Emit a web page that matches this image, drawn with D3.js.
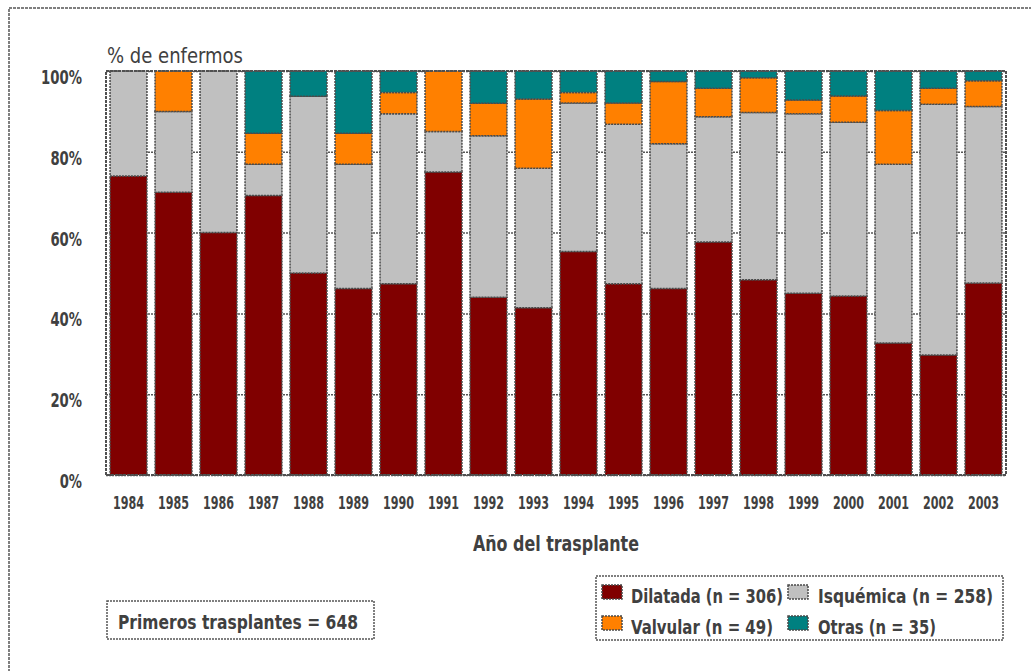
<!DOCTYPE html>
<html>
<head>
<meta charset="utf-8">
<script src="https://cdn.jsdelivr.net/npm/d3@7"></script>
<style>
html,body{margin:0;padding:0;background:#fff;}
svg text{font-family:"Liberation Sans Narrow","Arial Narrow","DejaVu Sans Condensed","Liberation Sans",sans-serif;fill:#404040;}
</style>
</head>
<body>
<svg id="chart" width="1031" height="671"></svg>
<script>
const years = ["1984","1985","1986","1987","1988","1989","1990","1991","1992","1993","1994","1995","1996","1997","1998","1999","2000","2001","2002","2003"];
const dilatada  = [74, 70, 60, 69.2, 50,   46.2, 47.4, 75, 44, 41.4, 55.3, 47.4, 46.2, 57.7, 48.3, 45.0, 44.3, 32.7, 29.7, 47.5];
const isquemica = [26, 20, 40, 7.7,  43.75,30.8, 42.1, 10, 40, 34.5, 36.8, 39.5, 35.9, 31.0, 41.4, 44.4, 43.0, 44.2, 62.1, 43.7];
const valvular  = [0,  10, 0,  7.7,  0,    7.7,  5.3,  15, 8,  17.2, 2.6,  5.3,  15.4, 7.0,  8.6,  3.4,  6.5,  13.3, 3.9,  6.4];
const otras     = [0,  0,  0,  15.4, 6.25, 15.4, 5.3,  0,  8,  6.9,  5.3,  7.9,  2.6,  4.3,  1.7,  7.2,  6.2,  9.8,  4.3,  2.4];
const seriesNames = ["Dilatada (n = 306)","Isquémica (n = 258)","Valvular (n = 49)","Otras (n = 35)"];
const seriesKeys = ["dilatada","isquemica","valvular","otras"];
const colors = ["#800000","#C0C0C0","#FF8000","#008080"];
const yTicks = [0,20,40,60,80,100];
const yTitle = "% de enfermos";
const xTitle = "Año del trasplante";
const noteText = "Primeros trasplantes = 648";

const rows = years.map((y,i)=>({year:y, dilatada:dilatada[i], isquemica:isquemica[i], valvular:valvular[i], otras:otras[i]}));
rows.forEach(r=>{const s=r.dilatada+r.isquemica+r.valvular+r.otras; seriesKeys.forEach(k=>r[k]=r[k]/s*100);});

const svg = d3.select("#chart");
const m = {left:106, right:1006, top:71, bottom:475};
const x = d3.scaleBand().domain(years).range([m.left,m.right]).paddingInner(0.18).paddingOuter(0.09);
const y = d3.scaleLinear().domain([0,100]).range([m.bottom,m.top]);

// helper: fit text to a measured width (condensed look)
function fit(sel, w){ sel.attr("textLength",w).attr("lengthAdjust","spacingAndGlyphs"); return sel; }

svg.append("rect").attr("x",9).attr("y",8).attr("width",1100).attr("height",800)
  .attr("fill","none").attr("stroke","#555").attr("stroke-width",1.5).attr("stroke-dasharray","3 1");

svg.append("g").attr("transform",`translate(${m.left},0)`)
  .call(d3.axisLeft(y).tickValues(yTicks).tickSize(-(m.right-m.left)).tickFormat(""))
  .call(g=>g.select(".domain").remove())
  .call(g=>g.selectAll("line").attr("stroke","#555").attr("stroke-width",1.5).attr("stroke-dasharray","2 1"));

const stack = d3.stack().keys(seriesKeys)(rows);
svg.append("g").selectAll("g").data(stack).join("g")
  .attr("fill",(d,i)=>colors[i])
  .selectAll("rect").data(d=>d).join("rect")
  .attr("x",d=>x(d.data.year))
  .attr("width",x.bandwidth())
  .attr("y",d=>y(d[1]))
  .attr("height",d=>Math.max(0,y(d[0])-y(d[1])))
  .attr("stroke","#4a4a4a").attr("stroke-width",1.5).attr("stroke-dasharray","2 1");

svg.append("rect").attr("x",m.left).attr("y",m.top).attr("width",m.right-m.left).attr("height",m.bottom-m.top)
  .attr("fill","none").attr("stroke","#505050").attr("stroke-width",2).attr("stroke-dasharray","3 1");

// y axis labels
svg.append("g").attr("transform",`translate(${m.left},0)`)
  .call(d3.axisLeft(y).tickValues(yTicks).tickSize(0).tickPadding(24).tickFormat(d=>d+"%"))
  .call(g=>g.select(".domain").remove())
  .call(g=>g.selectAll("text").attr("dy",null)
     .attr("y",12.5).attr("font-size",19).attr("font-weight","bold").attr("fill","#404040")
     .each(function(d){ d3.select(this).attr("textLength", String(d).length*9.3+13).attr("lengthAdjust","spacingAndGlyphs"); }));

// x axis labels
svg.append("g").attr("transform",`translate(0,${m.bottom})`)
  .call(d3.axisBottom(x).tickSize(0).tickPadding(0))
  .call(g=>g.select(".domain").remove())
  .call(g=>g.selectAll("text").attr("dy",null).attr("y",34).attr("font-size",17).attr("font-weight","bold")
     .attr("fill","#404040").attr("textLength",31).attr("lengthAdjust","spacingAndGlyphs"));

fit(svg.append("text").attr("x",107).attr("y",63).attr("font-size",21).text(yTitle),136);
fit(svg.append("text").attr("x",(m.left+m.right)/2).attr("y",551).attr("text-anchor","middle")
  .attr("font-size",21).attr("font-weight","bold").text(xTitle),166);

svg.append("rect").attr("x",107).attr("y",601).attr("width",267).attr("height",38)
  .attr("fill","none").attr("stroke","#555").attr("stroke-width",1.5).attr("stroke-dasharray","2 1");
fit(svg.append("text").attr("x",118).attr("y",629).attr("font-size",19).attr("font-weight","bold").text(noteText),240);

svg.append("rect").attr("x",596).attr("y",576).attr("width",407).attr("height",64)
  .attr("fill","none").attr("stroke","#555").attr("stroke-width",1.5).attr("stroke-dasharray","2 1");
const legPos = [[602,585],[788,585],[602,616],[788,616]];
const legW = [152,175,142,118];
const leg = svg.append("g").selectAll("g").data(seriesNames).join("g")
  .attr("transform",(d,i)=>`translate(${legPos[i][0]},${legPos[i][1]})`);
leg.append("rect").attr("width",20).attr("height",14).attr("fill",(d,i)=>colors[i])
  .attr("stroke","#4a4a4a").attr("stroke-width",1.5).attr("stroke-dasharray","2 1");
leg.append("text").attr("x",(d,i)=>i%2===0?29:30).attr("y",18).attr("font-size",19).attr("font-weight","bold")
  .attr("textLength",(d,i)=>legW[i]).attr("lengthAdjust","spacingAndGlyphs").text(d=>d);
</script>
</body>
</html>
